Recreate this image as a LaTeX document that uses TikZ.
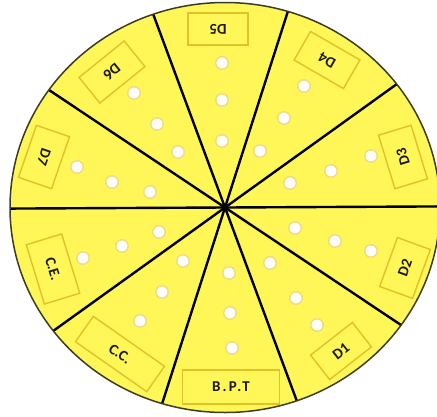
\documentclass[tikz,border=0pt]{standalone}
\usepackage{fontspec}
\setmainfont{Carlito}
\definecolor{padyellow}{RGB}{255,246,88}
\definecolor{boxgold}{RGB}{226,192,40}
\definecolor{holering}{RGB}{242,218,130}
\definecolor{rimcol}{RGB}{60,60,35}
\tikzset{
  lbl/.style={draw=boxgold, line width=1.4pt, fill=padyellow, inner sep=0pt,
    font=\bfseries\fontsize{15}{15}\selectfont, text=black!90},
  wide/.style={font=\bfseries\fontsize{15}{15}\selectfont\addfontfeature{LetterSpace=14}},
  hole/.style={circle, draw=holering, line width=1.4pt, fill=white, minimum size=12.5pt, inner sep=0pt},
  divider/.style={line width=2.4pt, black},
}
\begin{document}
\begin{tikzpicture}[x=1pt,y=-1pt]
\useasboundingbox (0,0) rectangle (437,416);
\clip (0,0) rectangle (437,416);
\coordinate (O) at (225,207.5);
\fill[padyellow] (O) ellipse [x radius=215, y radius=205];
% dividers (diameters)
\foreach \a [count=\i] in {0.3,37,73,109.5,145} {
  \coordinate (ea\i) at ({225+215*cos(\a)},{207.5-205*sin(\a)});
  \coordinate (eb\i) at ({225-215*cos(\a)},{207.5+205*sin(\a)});
  \draw[divider] (ea\i) -- (eb\i);
}
\draw[rimcol, line width=1.5pt] (O) ellipse [x radius=215, y radius=205];
% labels
\node[lbl, minimum width=60pt, minimum height=32pt, rotate=180] (lD5) at (218,29) {D5};
\node[lbl, minimum width=57pt, minimum height=33pt, rotate=150] (lD4) at (327,60) {D4};
\node[lbl, minimum width=56pt, minimum height=34pt, rotate=107] (lD3) at (403,157) {D3};
\node[lbl, minimum width=52pt, minimum height=35pt, rotate=70] (lD2) at (405,268) {D2};
\node[lbl, minimum width=53pt, minimum height=31pt, rotate=38] (lD1) at (341,351) {D1};
\node[lbl, wide, minimum width=97pt, minimum height=34pt, rotate=0] (lBPT) at (231,387) {B.P.T};
\node[lbl, minimum width=87pt, minimum height=31pt, rotate=-35] (lCC) at (120,354) {C.C.};
\node[lbl, minimum width=62pt, minimum height=37pt, rotate=-73] (lCE) at (53,269) {C.E.};
\node[lbl, minimum width=55pt, minimum height=35pt, rotate=-109] (lD7) at (44,157) {D7};
\node[lbl, minimum width=58pt, minimum height=33pt, rotate=219] (lD6) at (112,72) {D6};
% holes
\foreach \p [count=\k] in {(222,63),(222,100),(222,141),
  (304,86),(284,118),(260,151),
  (371,156),(331,171),(290,183),
  (371,251),(335,241),(295,228),
  (317,325),(296,298),(270,263),
  (232,348),(230,313),(229,273),
  (140,321),(162,292),(183,261),
  (83,258),(122,246),(159,232),
  (77,167),(112,182),(150,192),
  (134,93),(157,124),(178,152)} {
  \node[hole] (h\k) at \p {};
}
\end{tikzpicture}
\end{document}
